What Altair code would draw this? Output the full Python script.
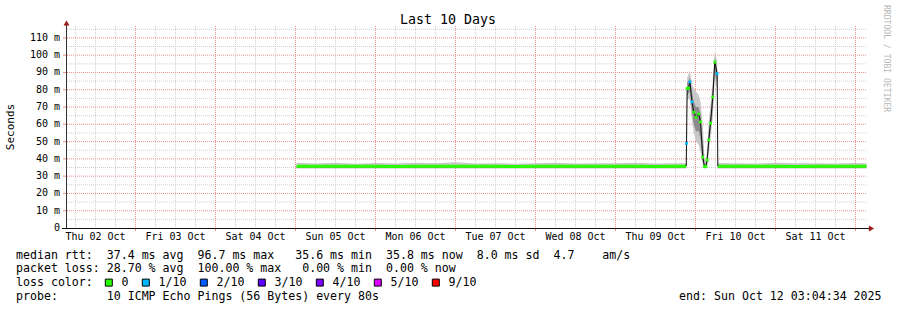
import altair as alt
import pandas as pd

FONT = "DejaVu Sans Mono"
NB = "\u00a0"

# ---------------- data ----------------
day_labels = ["Thu 02 Oct", "Fri 03 Oct", "Sat 04 Oct", "Sun 05 Oct", "Mon 06 Oct",
              "Tue 07 Oct", "Wed 08 Oct", "Thu 09 Oct", "Fri 10 Oct", "Sat 11 Oct"]
y_ticks = [0, 10, 20, 30, 40, 50, 60, 70, 80, 90, 100, 110]
y_tick_labels = ["0", "10 m", "20 m", "30 m", "40 m", "50 m", "60 m", "70 m", "80 m",
                 "90 m", "100 m", "110 m"]

loss_labels = ["0", "1/10", "2/10", "3/10", "4/10", "5/10", "9/10"]
loss_colors = ["#26ff00", "#00b8ff", "#0059ff", "#5e00ff", "#7e00ff", "#dd00ff", "#ff0000"]

# time in days after Thu 02 Oct 00:00 UTC, rtt in ms
t_flat1 = [3.0125, 3.25, 3.5, 3.75, 4.0, 4.25, 4.5, 4.75, 5.0, 5.25, 5.5, 5.75,
           6.0, 6.25, 6.5, 6.75, 7.0, 7.25, 7.5, 7.75, 7.884]
med_flat1 = [35.8, 35.7, 35.7, 35.8, 35.7, 35.6, 35.7, 35.8, 35.7, 35.7, 35.7, 35.6,
             35.7, 35.7, 35.8, 35.7, 35.7, 35.7, 35.6, 35.7, 35.8]
hi_flat1 = [37.7, 37.3, 37.8, 37.2, 37.6, 37.3, 37.7, 37.4, 38.0, 37.3, 37.5, 37.2,
            37.4, 37.7, 37.3, 37.5, 37.4, 37.8, 37.3, 37.5, 37.4]

t_spike = [7.8875, 7.896, 7.9125, 7.931, 7.956, 7.979, 8.006, 8.041, 8.0625, 8.091,
           8.1125, 8.131, 8.146, 8.166, 8.1875, 8.216, 8.241, 8.271]
med_spike = [49.0, 80.7, 81.0, 84.5, 73.0, 67.0, 64.0, 66.0, 61.4, 41.0,
             35.5, 35.7, 39.4, 51.0, 60.6, 75.8, 96.0, 89.3]
loss_spike = ["1/10", "0", "0", "1/10", "1/10", "0", "0", "0", "0", "0",
              "0", "0", "0", "0", "0", "0", "0", "1/10"]
lo_out_spike = [40, 74, 75, 74, 62, 55, 50, 48, 44, 37, 34.5, 34.5, 36, 43, 52, 64, 86, 80]
hi_out_spike = [60, 87, 89, 91, 83, 81, 79, 77, 73, 59, 40, 39, 46, 61, 71, 85, 102, 96]
lo_in_spike = [45, 77, 78, 79, 67, 60, 56, 56, 52, 38, 35, 35, 37, 47, 56, 69, 90, 84]
hi_in_spike = [53, 84, 85, 87, 78, 73, 70, 70, 66, 50, 37, 37, 42, 56, 66, 80, 99, 92]

t_flat2 = [8.279, 8.5, 8.75, 9.0, 9.25, 9.5, 9.75, 10.0, 10.1375]
med_flat2 = [35.8, 35.7, 35.7, 35.7, 35.6, 35.7, 35.8, 35.7, 35.7]
hi_flat2 = [37.6, 37.4, 37.3, 37.7, 37.4, 37.5, 37.3, 37.6, 37.4]

FLAT_LO_OUT = 34.9
FLAT_LO_IN = 34.6

title_text = "Last 10 Days"
y_title = "Seconds"
credit_text = "RRDTOOL / TOBI OETIKER"

# ---------------- helpers ----------------
BASE = pd.Timestamp("2025-10-02T00:00:00Z").value // 10**6
DAY = 86400000


def ms(d):
    return BASE + d * DAY


X0 = 0.13125
XMAX = X0 + 10
YMAX = 116.9


def cols(segs):
    s = ""
    for c, txt in segs:
        s = s.ljust(c) + txt
    return s.replace(" ", NB)


footer1 = cols([(0, "median rtt:"), (13, "37.4 ms avg"), (26, "96.7 ms max"), (40, "35.6 ms min"),
                (53, "35.8 ms now"), (66, "8.0 ms sd"), (77, "4.7"), (84, "am/s")])
footer2 = cols([(0, "packet loss:"), (13, "28.70 % avg"), (26, "100.00 % max"), (41, "0.00 % min"),
                (53, "0.00 % now")])
footer4 = cols([(0, "probe:"), (13, "10 ICMP Echo Pings (56 Bytes) every 80s"),
                (95, "end: Sun Oct 12 03:04:34 2025")])

# ---------------- tables ----------------
smoke_rows = []
for t, m, h in zip(t_flat1, med_flat1, hi_flat1):
    smoke_rows.append(dict(ts=ms(t), lo1=FLAT_LO_OUT, hi1=h, lo2=FLAT_LO_IN, hi2=m))
for t, a, b, c, d in zip(t_spike, lo_out_spike, hi_out_spike, lo_in_spike, hi_in_spike):
    smoke_rows.append(dict(ts=ms(t), lo1=a, hi1=b, lo2=c, hi2=d))
for t, m, h in zip(t_flat2, med_flat2, hi_flat2):
    smoke_rows.append(dict(ts=ms(t), lo1=FLAT_LO_OUT, hi1=h, lo2=FLAT_LO_IN, hi2=m))
smoke = pd.DataFrame(smoke_rows)

flat = pd.DataFrame(
    [dict(ts=ms(t), v=v, seg="a") for t, v in zip(t_flat1, med_flat1)]
    + [dict(ts=ms(t), v=v, seg="b") for t, v in zip(t_flat2, med_flat2)]
)
black = pd.DataFrame(
    [dict(ts=ms(t_flat1[-1]), v=med_flat1[-1])]
    + [dict(ts=ms(t), v=v) for t, v in zip(t_spike, med_spike)]
    + [dict(ts=ms(t_flat2[0]), v=med_flat2[0])]
)
dots = pd.DataFrame(dict(ts=[ms(t) for t in t_spike], v=med_spike, loss=loss_spike))
one = pd.DataFrame(dict(k=[0]))

xlab = pd.DataFrame(dict(ts=[ms(i + 0.5) for i in range(len(day_labels))], label=day_labels))
ylab = pd.DataFrame(dict(y=y_ticks, label=y_tick_labels))

major_x = pd.DataFrame(dict(x=[ms(d) for d in range(1, 11)]))
minor_x = pd.DataFrame(dict(x=[ms(d + q) for d in range(0, 11) for q in (0.25, 0.5, 0.75)
                               if X0 < d + q < XMAX]))
major_y = pd.DataFrame(dict(y=list(range(10, 111, 10))))
minor_y = pd.DataFrame(dict(y=list(range(5, 116, 10))))

xs = alt.Scale(type="utc", domain=[ms(X0), ms(XMAX)], nice=False)
ys = alt.Scale(domain=[0, YMAX], nice=False, zero=False)

GRID_MINOR = "#cfcfcf"
GRID_MAJOR = "#ec9090"


def xd(d):
    return alt.XDatum(ms(d), type="temporal", scale=xs, axis=None)


def yd(v):
    return alt.YDatum(v, type="quantitative", scale=ys, axis=None)


def x2d(d):
    return alt.X2Datum(ms(d))


def y2d(v):
    return alt.Y2Datum(v)


def xf(f):
    return alt.X(f, type="temporal", scale=xs, axis=None)


def yf(f):
    return alt.Y(f, type="quantitative", scale=ys, axis=None)


# ---------------- layers ----------------
dash = dict(strokeDash=[1, 1], strokeWidth=1)
minor_vx = alt.Chart(minor_x).mark_rule(color=GRID_MINOR, **dash).encode(x=xf("x"))
minor_hy = alt.Chart(minor_y).mark_rule(color=GRID_MINOR, **dash).encode(y=yf("y"))
major_vx = alt.Chart(major_x).mark_rule(color=GRID_MAJOR, **dash).encode(x=xf("x"))
major_hy = alt.Chart(major_y).mark_rule(color=GRID_MAJOR, **dash).encode(y=yf("y"))
# major grid stubs below the x axis and left of the y axis
x_stubs = alt.Chart(major_x).mark_rule(color=GRID_MAJOR, strokeWidth=1, y2Offset=3).encode(
    x=xf("x"), y=yd(0), y2=y2d(0))
y_stubs = alt.Chart(major_y).mark_rule(color=GRID_MAJOR, strokeWidth=1, xOffset=-3).encode(
    y=yf("y"), x=xd(X0), x2=x2d(X0))

smoke_out = alt.Chart(smoke).mark_area(color="#c8c8c8", opacity=1).encode(
    x=xf("ts"), y=yf("lo1"), y2="hi1")
smoke_in = alt.Chart(smoke).mark_area(color="#8c8c8c", opacity=1).encode(
    x=xf("ts"), y=yf("lo2"), y2="hi2")
green = alt.Chart(flat).mark_line(color="#26ff00", strokeWidth=3).encode(
    x=xf("ts"), y=yf("v"), detail="seg:N")
blk = alt.Chart(black).mark_line(color="#111111", strokeWidth=1).encode(
    x=xf("ts"), y=yf("v"))
sq = alt.Chart(dots).mark_square(size=8, opacity=1).encode(
    x=xf("ts"), y=yf("v"),
    color=alt.Color("loss:N", scale=alt.Scale(domain=loss_labels, range=loss_colors),
                    legend=alt.Legend(
                        orient="none", legendX=-50, legendY=250.5, direction="horizontal",
                        title="loss color:", titleOrient="left", titleFont=FONT,
                        titleFontSize=11.6, titleFontWeight="normal", titleColor="black",
                        titlePadding=10, labelFont=FONT, labelFontSize=11.6, labelColor="black",
                        symbolType="square", symbolSize=49, symbolStrokeColor="black",
                        symbolStrokeWidth=1, symbolOpacity=1, labelOffset=7,
                        columnPadding=11)),
)

# axes drawn through the scales
x_line = alt.Chart(one).mark_rule(color="#111111", strokeWidth=1, xOffset=-4, x2Offset=3,
                                  yOffset=0.5).encode(x=xd(X0), x2=x2d(XMAX), y=yd(0))
y_line = alt.Chart(one).mark_rule(color="#333333", strokeWidth=1, xOffset=0.5,
                                  y2Offset=-1).encode(x=xd(X0), y=yd(0), y2=y2d(YMAX))
x_text = alt.Chart(xlab).mark_text(font=FONT, fontSize=10, color="black", align="center",
                                   baseline="alphabetic", yOffset=12).encode(
    x=xf("ts"), y=yd(0), text="label:N")
y_text = alt.Chart(ylab).mark_text(font=FONT, fontSize=10, color="black", align="right",
                                   baseline="middle", xOffset=-6).encode(
    x=xd(X0), y=yf("y"), text="label:N")
y_tit = alt.Chart(one).mark_text(text=y_title, font=FONT, fontSize=11, color="black",
                                 angle=270, align="center", baseline="middle",
                                 xOffset=-55).encode(x=xd(X0), y=yd(YMAX / 2))

arrow_top = alt.Chart(one).mark_point(shape="triangle-up", filled=True, size=36, opacity=1,
                                      color="#9b1b1b", yOffset=-3, xOffset=0.5).encode(
    x=xd(X0), y=yd(YMAX))
arrow_right = alt.Chart(one).mark_point(shape="triangle-right", filled=True, size=36, opacity=1,
                                        color="#9b1b1b", xOffset=5.5, yOffset=0.5).encode(
    x=xd(XMAX), y=yd(0))
credit = alt.Chart(one).mark_text(
    text=credit_text, font=FONT, fontSize=8.1, color="#b8b8b8",
    angle=90, align="left", baseline="middle", xOffset=20, yOffset=-21).encode(
    x=xd(XMAX), y=yd(YMAX))
title = alt.Chart(one).mark_text(
    text=title_text, font=FONT, fontSize=13.3, color="black",
    align="center", baseline="alphabetic", yOffset=-2.5).encode(
    x=xd(X0 + 382 / 80), y=yd(YMAX))

foot_style = dict(font=FONT, fontSize=11.6, color="black", align="left", baseline="alphabetic",
                  xOffset=-50)
foot1 = alt.Chart(one).mark_text(text=footer1, yOffset=30.5, **foot_style).encode(
    x=xd(X0), y=yd(0))
foot2 = alt.Chart(one).mark_text(text=footer2, yOffset=44.3, **foot_style).encode(
    x=xd(X0), y=yd(0))
foot4 = alt.Chart(one).mark_text(text=footer4, yOffset=71.9, **foot_style).encode(
    x=xd(X0), y=yd(0))

chart = alt.layer(
    minor_vx, minor_hy, major_vx, major_hy, x_stubs, y_stubs,
    smoke_out, smoke_in, green, blk, sq,
    x_line, y_line, x_text, y_text, y_tit,
    arrow_top, arrow_right, credit, title, foot1, foot2, foot4,
).properties(
    width=800, height=202,
    padding={"left": 66, "top": 26, "right": 31, "bottom": 82},
    autosize=alt.AutoSizeParams(type="none"),
    background="white",
).configure_view(stroke="transparent")

chart.save("out.html", embed_options={"renderer": "svg", "actions": False})
